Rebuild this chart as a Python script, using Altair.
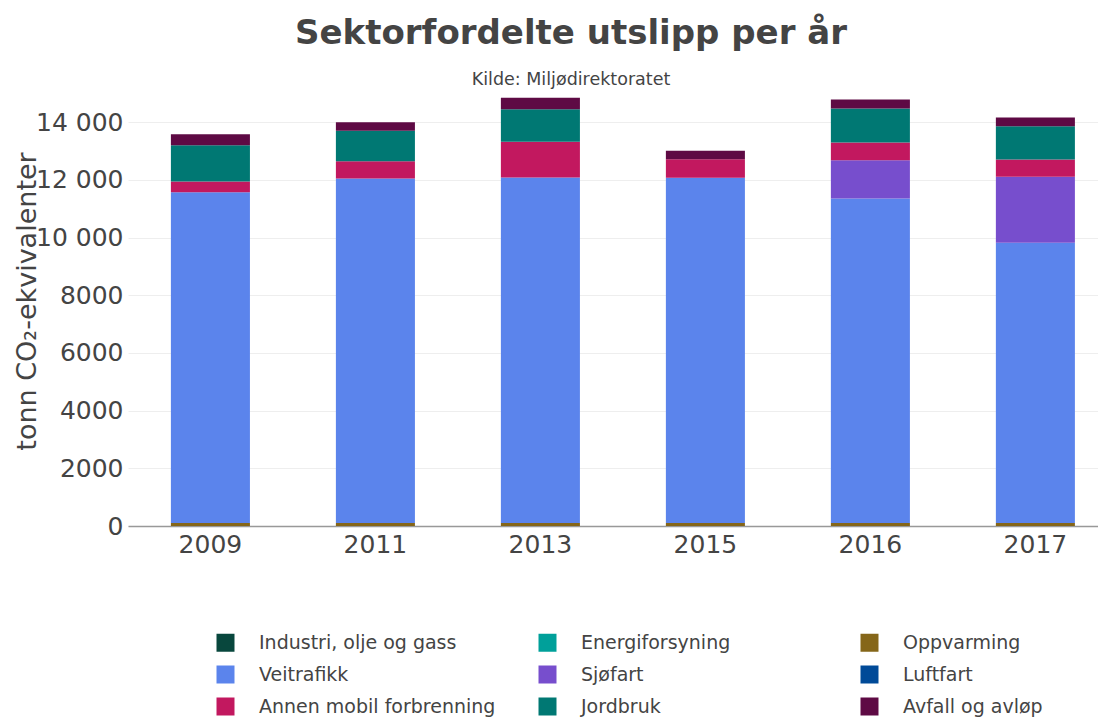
import altair as alt
import pandas as pd

years = ["2009", "2011", "2013", "2015", "2016", "2017"]
sectors = [
    "Industri, olje og gass", "Energiforsyning", "Oppvarming",
    "Veitrafikk", "Sjøfart", "Luftfart",
    "Annen mobil forbrenning", "Jordbruk", "Avfall og avløp",
]
colors = ["#08473d", "#00a09a", "#856619", "#5b84ec", "#774ecd",
          "#004a98", "#c2185f", "#007873", "#5e0a44"]

industri = [0, 0, 0, 0, 0, 0]
energiforsyning = [0, 0, 0, 0, 0, 0]
oppvarming = [100, 100, 100, 100, 100, 100]
veitrafikk = [11474, 11949, 11983, 11970, 11256, 9717]
sjofart = [0, 0, 0, 0, 1327, 2288]
luftfart = [0, 0, 0, 0, 0, 0]
annen = [371, 600, 1235, 648, 613, 602]
jordbruk = [1258, 1050, 1132, 0, 1178, 1154]
avfall = [375, 301, 392, 288, 312, 301]

series = [industri, energiforsyning, oppvarming, veitrafikk, sjofart,
          luftfart, annen, jordbruk, avfall]

rows = []
for idx, (name, vals) in enumerate(zip(sectors, series)):
    for y, v in zip(years, vals):
        rows.append({"year": y, "sector": name, "value": v, "idx": idx})
df = pd.DataFrame(rows)

FONT = "DejaVu Sans"
TXT = "#444444"

ylabel = ("datum.value >= 10000 ? replace(format(datum.value, ','), ',', ' ')"
          " : format(datum.value, 'd')")

chart = alt.Chart(df).mark_bar().encode(
    x=alt.X(
        "year:N", sort=years,
        scale=alt.Scale(paddingInner=0.521, paddingOuter=0.2, align=0.65),
        axis=alt.Axis(title=None, labelAngle=0, ticks=False, domainColor="#999999",
                      domainWidth=1.5, labelFontSize=25, labelColor=TXT,
                      labelFont=FONT, labelPadding=6, grid=False),
    ),
    y=alt.Y(
        "value:Q", stack="zero",
        scale=alt.Scale(domain=[0, 15600], nice=False),
        axis=alt.Axis(title="tonn CO₂-ekvivalenter", values=list(range(0, 14001, 2000)),
                      labelExpr=ylabel, ticks=False, domain=False, gridColor="#eeeeee",
                      labelFontSize=25, labelColor=TXT, labelFont=FONT, labelPadding=5,
                      titleFontSize=27, titleColor=TXT, titleFont=FONT,
                      titleFontWeight="normal", titleX=-101, titleY=225,
                      titleBaseline="middle"),
    ),
    color=alt.Color(
        "sector:N",
        scale=alt.Scale(domain=sectors, range=colors),
        legend=alt.Legend(title=None, orient="none", legendX=88, legendY=557,
                          columns=3, gridAlign="all", columnPadding=42, rowPadding=12,
                          symbolType="square", symbolSize=324, symbolStrokeWidth=0,
                          symbolOpacity=1, labelFontSize=19, labelColor=TXT,
                          labelFont=FONT, labelLimit=400, labelOffset=24,
                          direction="horizontal"),
    ),
    order=alt.Order("idx:Q", sort="ascending"),
).properties(
    width=970, height=450,
    autosize=alt.AutoSizeParams(type="none"),
    padding={"left": 120, "top": 68, "right": 0, "bottom": 191},
    title=alt.TitleParams(
        text="Sektorfordelte utslipp per år",
        subtitle="Kilde: Miljødirektoratet",
        fontSize=34, font=FONT, fontWeight="bold", color=TXT,
        subtitleFontSize=17.5, subtitleColor=TXT, subtitleFont=FONT,
        subtitlePadding=20, anchor="middle", frame="group", dx=-42, offset=-12,
    ),
).configure_view(strokeWidth=0)

chart.save("out.html", embed_options={"renderer": "svg", "actions": False})
